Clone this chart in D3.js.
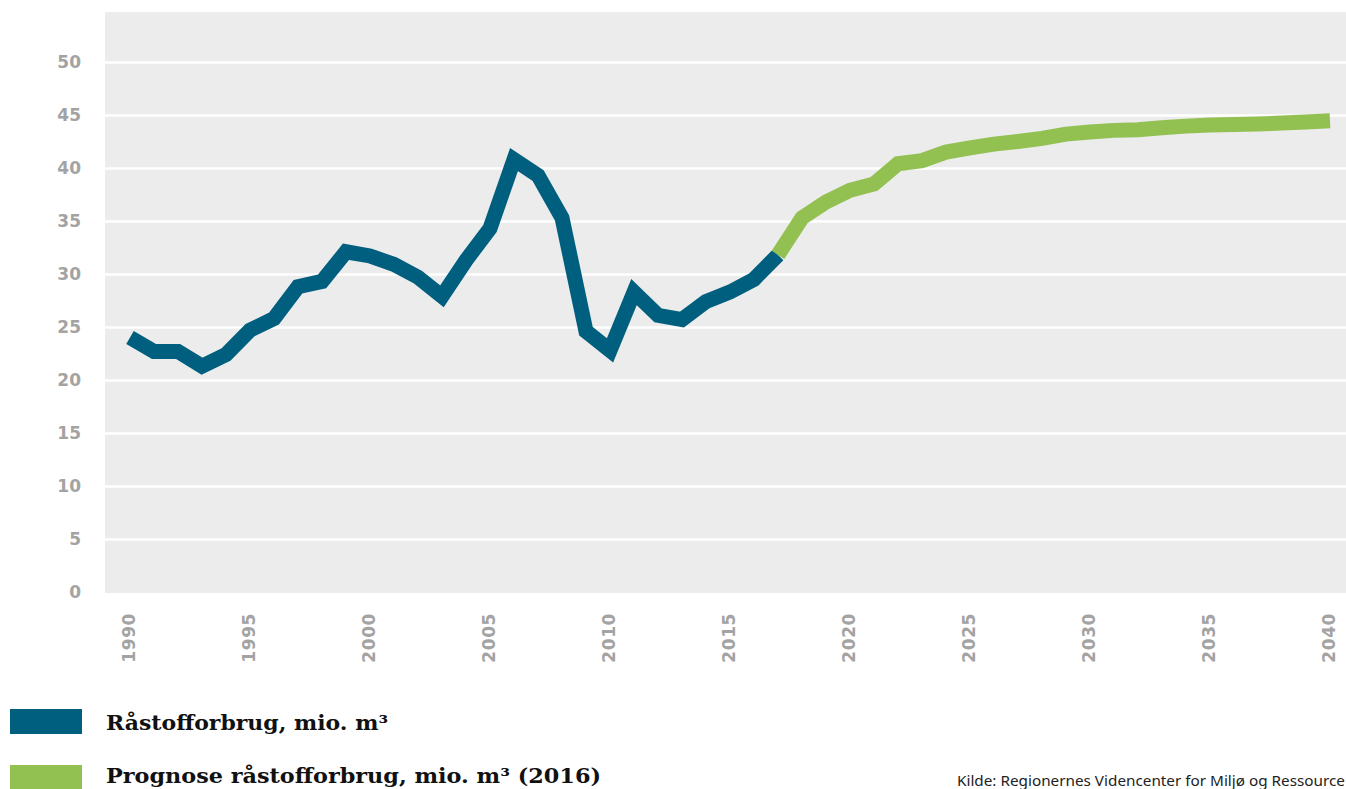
<!DOCTYPE html>
<html>
<head>
<meta charset="utf-8">
<script src="https://cdn.jsdelivr.net/npm/d3@7"></script>
<style>
  body { margin: 0; background: #fff; }
  svg { display: block; }
</style>
</head>
<body>
<div id="chart"></div>
<script>
// Raw material consumption chart (historic + forecast)

// Data
const HIST_YEARS = d3.range(1990, 2018);
const HIST_VALUES = [24.0, 22.7, 22.7, 21.3, 22.4, 24.7, 25.8, 28.8, 29.3, 32.1,
                     31.7, 30.9, 29.7, 27.9, 31.3, 34.3, 40.8, 39.3, 35.3, 24.6,
                     22.8, 28.3, 26.1, 25.7, 27.4, 28.3, 29.5, 31.8];
const PROG_YEARS = d3.range(2017, 2041);
const PROG_VALUES = [31.8, 35.3, 36.8, 37.9, 38.5, 40.4, 40.7, 41.5, 41.9, 42.25,
                     42.5, 42.8, 43.2, 43.4, 43.55, 43.6, 43.8, 43.95, 44.05, 44.1,
                     44.15, 44.25, 44.35, 44.45];
const Y_TICKS = d3.range(0, 51, 5);
const X_TICKS = d3.range(1990, 2041, 5);
const LEGEND_LABELS = ["Råstofforbrug, mio. m³", "Prognose råstofforbrug, mio. m³ (2016)"];
const SOURCE_TEXT = "Kilde: Regionernes Videncenter for Miljø og Ressource";

// Frame
const FRAME_WIDTH = 1346;
const FRAME_HEIGHT = 789;
const PLOT = {left: 105, right: 1346, top: 12, bottom: 593};

const BLUE = "#005f7e";
const GREEN = "#92c152";
const GRAY_TEXT = "#a3a3a3";

const SVG = d3.select("#chart")
              .append("svg")
                .attr("width", FRAME_WIDTH)
                .attr("height", FRAME_HEIGHT);

// Scales
const X_SCALE = d3.scaleLinear()
                  .domain([1990, 2040])
                  .range([130, 1330]);

const Y_SCALE = d3.scaleLinear()
                  .domain([0, 50])
                  .range([592, 62]);

// Plot background
SVG.append("rect")
    .attr("x", PLOT.left)
    .attr("y", PLOT.top)
    .attr("width", PLOT.right - PLOT.left)
    .attr("height", PLOT.bottom - PLOT.top)
    .attr("fill", "#ececec");

// Grid lines (white)
const grid = SVG.append("g")
    .attr("transform", "translate(" + PLOT.left + ",0)")
    .call(d3.axisLeft(Y_SCALE)
            .tickValues(Y_TICKS.filter(d => d > 0))
            .tickSize(-(PLOT.right - PLOT.left))
            .tickFormat(""));
grid.select(".domain").remove();
grid.selectAll("line")
    .attr("stroke", "#ffffff")
    .attr("stroke-width", 2.5);

// Y axis labels
const yAxis = SVG.append("g")
    .attr("transform", "translate(81,0)")
    .call(d3.axisLeft(Y_SCALE).tickValues(Y_TICKS).tickSize(0).tickPadding(0));
yAxis.select(".domain").remove();
yAxis.selectAll("text")
    .attr("fill", GRAY_TEXT)
    .attr("font-family", "'DejaVu Sans', sans-serif")
    .attr("font-weight", 700)
    .attr("font-size", "17px");

// X axis labels (rotated)
const xAxis = SVG.append("g")
    .attr("transform", "translate(-2,613)")
    .call(d3.axisBottom(X_SCALE).tickValues(X_TICKS).tickSize(0).tickFormat(d3.format("d")));
xAxis.select(".domain").remove();
xAxis.selectAll("text")
    .attr("x", 0)
    .attr("y", 0)
    .attr("dy", "0.36em")
    .attr("transform", "rotate(-90)")
    .attr("text-anchor", "end")
    .attr("fill", GRAY_TEXT)
    .attr("font-family", "'DejaVu Sans', sans-serif")
    .attr("font-weight", 700)
    .attr("font-size", "17px")
    .attr("letter-spacing", "0.6px");

// Lines
const line = d3.line()
    .x(d => X_SCALE(d[0]))
    .y(d => Y_SCALE(d[1]));

SVG.append("path")
    .datum(d3.zip(HIST_YEARS, HIST_VALUES))
    .attr("d", line)
    .attr("fill", "none")
    .attr("stroke", BLUE)
    .attr("stroke-width", 15)
    .attr("stroke-linejoin", "miter")
    .attr("stroke-linecap", "butt");

SVG.append("path")
    .datum(d3.zip(PROG_YEARS, PROG_VALUES))
    .attr("d", line)
    .attr("fill", "none")
    .attr("stroke", GREEN)
    .attr("stroke-width", 15)
    .attr("stroke-linejoin", "miter")
    .attr("stroke-linecap", "butt");

// Legend
const LEGEND_WIDTHS = [282, 495];
const legend = SVG.selectAll(".legend")
    .data(LEGEND_LABELS)
    .enter()
    .append("g")
      .attr("class", "legend")
      .attr("transform", (d, i) => "translate(10," + (709 + i * 56) + ")");

legend.append("rect")
    .attr("width", 72)
    .attr("height", 25)
    .attr("fill", (d, i) => i === 0 ? BLUE : GREEN);

legend.append("text")
    .attr("x", 96)
    .attr("y", (d, i) => i === 0 ? 21 : 18)
    .attr("fill", "#111")
    .attr("font-family", "'DejaVu Serif', serif")
    .attr("font-weight", 700)
    .attr("font-size", "21px")
    .attr("textLength", (d, i) => LEGEND_WIDTHS[i])
    .attr("lengthAdjust", "spacingAndGlyphs")
    .text(d => d);

// Source
SVG.append("text")
    .attr("x", 957)
    .attr("y", 786)
    .attr("fill", "#222")
    .attr("font-family", "'Noto Sans', sans-serif")
    .attr("font-size", "15px")
    .attr("textLength", 388)
    .attr("lengthAdjust", "spacingAndGlyphs")
    .text(SOURCE_TEXT);
</script>
</body>
</html>
